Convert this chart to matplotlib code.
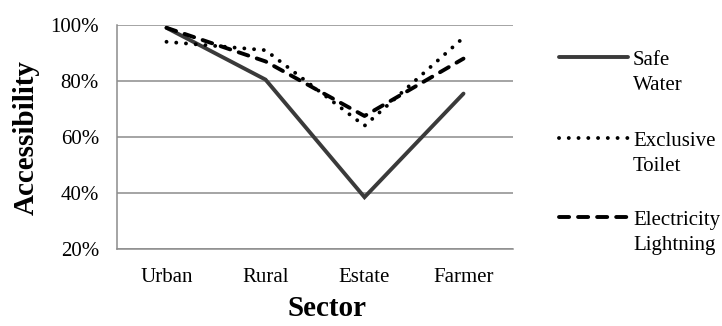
import matplotlib
matplotlib.use("Agg")
import matplotlib.pyplot as plt
from matplotlib.lines import Line2D

categories = ["Urban", "Rural", "Estate", "Farmer"]
safe_water = [99, 80.5, 38.5, 75.5]
exclusive_toilet = [94, 91, 64, 95.5]
electricity = [99, 87, 67.5, 88]
y_ticks = [20, 40, 60, 80, 100]
y_tick_labels = ["20%", "40%", "60%", "80%", "100%"]

plt.rcParams['font.family'] = ['Liberation Serif', 'DejaVu Serif']

W, H = 722, 326
fig = plt.figure(figsize=(W/100, H/100), dpi=100)
ax = fig.add_axes([117/W, 1-249/H, (513-117)/W, (249-25)/H])

LW = 2.8
styles = [
    dict(color="#3a3a3a", lw=LW, solid_capstyle='round', solid_joinstyle='miter'),
    dict(color="black", lw=LW, linestyle=(0, (0.01, 2.5)), dash_capstyle='round'),
    dict(color="black", lw=LW, linestyle=(0, (2.6, 2.3)), dash_capstyle='round'),
]

x = [i + 0.5 for i in range(len(categories))]
ax.plot(x, safe_water, **styles[0])
ax.plot(x, exclusive_toilet, **styles[1])
ax.plot(x, electricity, **styles[2])

ax.set_xlim(0, 4)
ax.set_ylim(20, 100)
ax.set_yticks(y_ticks)
ax.set_yticklabels(y_tick_labels)
ax.set_xticks(x)
ax.set_xticklabels(categories)
ax.tick_params(axis='both', length=0, labelsize=15, colors='black')
ax.tick_params(axis='y', pad=13)
ax.tick_params(axis='x', pad=14)
ax.grid(axis='y', color='#8c8c8c', lw=1.1)
ax.set_axisbelow(True)
for s in ['top', 'right']:
    ax.spines[s].set_visible(False)
for s in ['left', 'bottom']:
    ax.spines[s].set_color('#8c8c8c')
    ax.spines[s].set_linewidth(1.1)

fig.text(26/W, 1-138/H, "Accessibility", rotation=90, ha='center', va='center',
         fontsize=21, fontweight='bold')
fig.text(327/W, 1-316/H, "Sector", ha='center', va='baseline',
         fontsize=21, fontweight='bold')

# legend
legend_labels = [("Safe", "Water"), ("Exclusive", "Toilet"), ("Electricity", "Lightning")]
legend_y = [57, 138, 217]
for (l1, l2), st, yl in zip(legend_labels, styles, legend_y):
    yf = 1 - yl/H
    fig.add_artist(Line2D([559/W, 628/W], [yf, yf], transform=fig.transFigure, **st))
    fig.text(633/W, 1-(yl+8)/H, l1, ha='left', va='baseline', fontsize=15)
    fig.text(633/W, 1-(yl+33)/H, l2, ha='left', va='baseline', fontsize=15)

fig.savefig("out.png", dpi=100)
